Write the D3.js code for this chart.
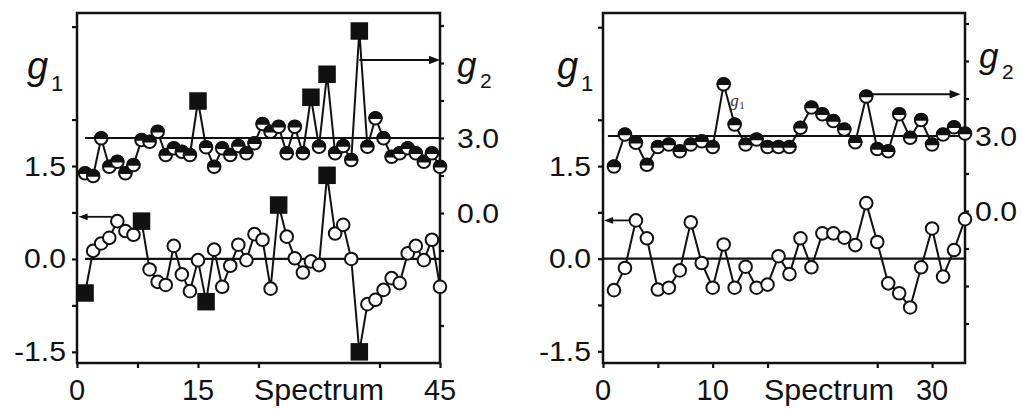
<!DOCTYPE html>
<html><head><meta charset="utf-8">
<script src="https://cdn.jsdelivr.net/npm/d3@7"></script>
<style>body{margin:0;background:#fff}svg{display:block}</style>
</head><body><svg id="c" width="1022" height="409"></svg>
<script>
// ---------- data ----------
const spectraA = [1,2,3,4,5,6,7,8,9,10,11,12,13,14,15,16,17,18,19,20,21,22,23,24,25,26,27,28,29,30,31,32,33,34,35,36,37,38,39,40,41,42,43,44,45];
const g2A = [1.59,1.48,2.99,1.85,2.05,1.59,1.92,2.92,2.85,3.25,2.32,2.59,2.45,2.32,4.48,2.63,1.85,2.59,2.32,2.68,2.39,2.79,3.56,3.25,3.45,2.39,3.45,2.39,4.63,2.65,5.55,2.39,2.68,2.12,7.28,2.65,3.79,2.99,2.25,2.39,2.59,2.39,2.05,2.39,1.85];
const g1A = [-0.55,0.13,0.25,0.34,0.61,0.45,0.39,0.61,-0.17,-0.37,-0.42,0.21,-0.25,-0.52,-0.02,-0.69,0.15,-0.45,-0.11,0.23,-0.02,0.40,0.31,-0.48,0.87,0.36,0.01,-0.22,-0.04,-0.10,1.35,0.41,0.55,0.00,-1.50,-0.73,-0.66,-0.50,-0.31,-0.39,0.09,0.21,-0.02,0.31,-0.45];
const g2OutliersA = [15,29,31,35];
const g1OutliersA = [1,8,16,25,31,35];

const spectraB = [1,2,3,4,5,6,7,8,9,10,11,12,13,14,15,16,17,18,19,20,21,22,23,24,25,26,27,28,29,30,31,32,33];
const g2B = [1.78,3.06,2.73,1.85,2.56,2.66,2.39,2.66,2.79,2.56,5.07,3.46,2.66,2.86,2.56,2.56,2.56,3.33,4.14,3.87,3.60,3.26,2.75,4.58,2.48,2.39,3.87,2.93,3.64,2.66,3.06,3.35,3.10];
const g1B = [-0.51,-0.15,0.62,0.33,-0.50,-0.47,-0.19,0.59,-0.07,-0.47,0.23,-0.47,-0.13,-0.47,-0.42,0.04,-0.25,0.33,-0.14,0.41,0.41,0.34,0.22,0.90,0.27,-0.40,-0.56,-0.79,-0.14,0.49,-0.29,0.14,0.64];

const xTicksA = [0,7.5,15,22.5,37.5,45];
const xLabelsA = [0,15,45];
const xTicksB = [0,5,10,15,25,30];
const xLabelsB = [0,10,30];
const g1Ticks = [-1.5,-0.75,0,0.75,1.5,2.25,3.75];
const g1Labels = [-1.5,0,1.5];
const g2Ticks = [-4.5,-3,-1.5,0,1.5,3,4.5,6,7.5];
const g2Labels = [0,3];
const xTitle = "Spectrum";

// ---------- drawing ----------
const svg = d3.select("#c");
const INK = "#111";
const fmt = v => d3.format(".1f")(v).replace("\u2212","-");
const SANS = "'Liberation Sans', Arial, sans-serif";

function txt(g, x, y, s, size, anchor, sx, style) {
  const t = g.append("text")
    .attr("transform", `translate(${x},${y}) scale(${sx||1},1)`)
    .attr("font-family", SANS).attr("font-size", size)
    .attr("text-anchor", anchor).attr("fill", INK).text(s);
  if (style) t.attr("font-style", style);
  return t;
}

function arrow(g, x1, y, x2, head) {
  const dir = x2 > x1 ? 1 : -1;
  g.append("line").attr("x1", x1).attr("x2", x2 - dir*head*0.8).attr("y1", y).attr("y2", y)
    .attr("stroke", INK).attr("stroke-width", 1.8);
  g.append("path").attr("d", `M${x2},${y}L${x2 - dir*head},${y - head*0.38}L${x2 - dir*head},${y + head*0.38}Z`)
    .attr("fill", INK);
}

function panel(cfg) {
  const g = svg.append("g");
  const x = d3.scaleLinear().domain(cfg.xDomain).range(cfg.xRange);
  const y1 = d3.scaleLinear().domain(cfg.g1Domain).range([363, 13]);
  const y2 = d3.scaleLinear().domain(cfg.g2Domain).range([363, 13]);

  const ax = g.append("g").attr("transform", "translate(0,363)")
    .call(d3.axisBottom(x).tickValues(cfg.xTicks).tickSize(5).tickFormat(""));
  const ayl = g.append("g").attr("transform", `translate(${cfg.xRange[0]},0)`)
    .call(d3.axisLeft(y1).tickValues(g1Ticks).tickSize(5).tickFormat(""));
  const ayr = g.append("g").attr("transform", `translate(${cfg.xRange[1]},0)`)
    .call(d3.axisRight(y2).tickValues(g2Ticks).tickSize(4).tickFormat(""));
  [ax, ayl, ayr].forEach(a => {
    a.select(".domain").remove();
    a.selectAll("line").attr("stroke", INK).attr("stroke-width", 2.2);
  });
  g.append("rect").attr("x", cfg.xRange[0]).attr("y", 13)
    .attr("width", cfg.xRange[1] - cfg.xRange[0]).attr("height", 350)
    .attr("fill", "none").attr("stroke", INK).attr("stroke-width", 2.5);

  g1Labels.forEach(v => txt(g, cfg.leftLabelX, y1(v) + 9.5, fmt(v), 27, "end", 1.12));
  g2Labels.forEach(v => txt(g, cfg.rightLabelX, y2(v) + 9.5, fmt(v), 27, "start", 1.12));
  cfg.xLabels.forEach(v => txt(g, x(v), 400, String(v), 29, "middle", 1));
  txt(g, x(cfg.titleAt), 400, xTitle, 29.5, "middle", 1.03);

  txt(g, cfg.g1NameX, 79, "g", 38, "start", 1, "italic");
  txt(g, cfg.g1NameX + 24, 91, "1", 22, "start", 1);
  txt(g, cfg.g2NameX, cfg.g2NameY, "g", 35, "start", 1, "italic");
  txt(g, cfg.g2NameX + 23, cfg.g2NameY + 11, "2", 21, "start", 1);

  g.append("line").attr("x1", x(cfg.ref2Start)).attr("x2", cfg.xRange[1])
    .attr("y1", y2(3)).attr("y2", y2(3)).attr("stroke", INK).attr("stroke-width", 2.2);
  g.append("line").attr("x1", x(cfg.ref1Start)).attr("x2", cfg.xRange[1])
    .attr("y1", y1(0)).attr("y2", y1(0)).attr("stroke", INK).attr("stroke-width", 2.2);

  arrow(g, x(cfg.arrow1[0]), y1(cfg.arrow1[2]), x(cfg.arrow1[1]), 9);
  arrow(g, x(cfg.arrow2[0]), y2(cfg.arrow2[2]), x(cfg.arrow2[1]), 11);

  const line2 = d3.line().x((d, i) => x(cfg.spectra[i])).y(d => y2(d));
  const line1 = d3.line().x((d, i) => x(cfg.spectra[i])).y(d => y1(d));
  g.append("path").attr("d", line2(cfg.g2)).attr("fill", "none").attr("stroke", INK).attr("stroke-width", 2);
  g.append("path").attr("d", line1(cfg.g1)).attr("fill", "none").attr("stroke", INK).attr("stroke-width", 2);

  const r = 6.3, sq = 17.5;
  cfg.spectra.forEach((s, i) => {
    const px = x(s), py = y2(cfg.g2[i]);
    if (cfg.out2.includes(s)) {
      g.append("rect").attr("x", px - sq/2).attr("y", py - sq/2).attr("width", sq).attr("height", sq).attr("fill", INK);
    } else {
      g.append("circle").attr("cx", px).attr("cy", py).attr("r", r).attr("fill", "#fff").attr("stroke", INK).attr("stroke-width", 2);
      g.append("path").attr("transform", `translate(${px},${py})`)
        .attr("d", `M${-r},0A${r},${r} 0 0 1 ${r},0Z`).attr("fill", INK).attr("stroke", INK).attr("stroke-width", 1.5);
    }
  });
  cfg.spectra.forEach((s, i) => {
    const px = x(s), py = y1(cfg.g1[i]);
    if (cfg.out1.includes(s)) {
      g.append("rect").attr("x", px - sq/2).attr("y", py - sq/2).attr("width", sq).attr("height", sq).attr("fill", INK);
    } else {
      g.append("circle").attr("cx", px).attr("cy", py).attr("r", r).attr("fill", "#fff").attr("stroke", INK).attr("stroke-width", 2);
    }
  });

  if (cfg.note) {
    g.append("text").attr("x", x(cfg.note[0])).attr("y", y2(cfg.note[1]))
      .attr("font-family", "'Liberation Serif', 'Times New Roman', serif").attr("font-style", "italic")
      .attr("font-size", 17).attr("fill", "#333").text("g");
    g.append("text").attr("x", x(cfg.note[0]) + 9).attr("y", y2(cfg.note[1]) + 3)
      .attr("font-family", "'Liberation Serif', 'Times New Roman', serif")
      .attr("font-size", 11).attr("fill", "#333").text("1");
  }
}

panel({
  xDomain: [0, 45], xRange: [77, 440], g1Domain: [-1.68, 3.97], g2Domain: [-6, 8],
  spectra: spectraA, g1: g1A, g2: g2A, out1: g1OutliersA, out2: g2OutliersA,
  xTicks: xTicksA, xLabels: xLabelsA, titleAt: 30,
  leftLabelX: 66, rightLabelX: 457, g1NameX: 27, g2NameX: 457, g2NameY: 77,
  ref1Start: 1, ref2Start: 1,
  arrow1: [4.3, 0.2, 0.68], arrow2: [35, 45, 6.12]
});
panel({
  xDomain: [0, 33], xRange: [603, 965], g1Domain: [-1.69, 3.98], g2Domain: [-6.08, 7.92],
  spectra: spectraB, g1: g1B, g2: g2B, out1: [], out2: [],
  xTicks: xTicksB, xLabels: xLabelsB, titleAt: 20.6,
  leftLabelX: 591, rightLabelX: 975, g1NameX: 557, g2NameX: 979, g2NameY: 68,
  ref1Start: 0, ref2Start: 0.45,
  arrow1: [2.4, 0.1, 0.62], arrow2: [24, 32.6, 4.67],
  note: [11.6, 4.2]
});
</script></body></html>
